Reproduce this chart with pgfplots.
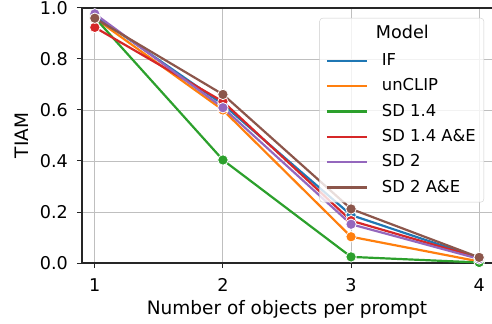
\documentclass[border=0pt]{standalone}
\usepackage{fontspec}
\setmainfont{DejaVu Sans}
\usepackage{pgfplots}
\pgfplotsset{compat=1.18}
\definecolor{cIF}{HTML}{1F77B4}
\definecolor{cUN}{HTML}{FF7F0E}
\definecolor{cSDa}{HTML}{2CA02C}
\definecolor{cSDb}{HTML}{D62728}
\definecolor{cSDc}{HTML}{9467BD}
\definecolor{cSDd}{HTML}{8C564B}
\definecolor{spine}{HTML}{262626}
\begin{document}
\fontsize{17.6bp}{21bp}\selectfont
\begin{tikzpicture}
\begin{axis}[
  width=410bp, height=255bp, scale only axis,
  xmin=0.9, xmax=4.1, ymin=0, ymax=1,
  xtick={1,2,3,4}, ytick={0,0.2,0.4,0.6,0.8,1.0},
  /pgf/number format/assume math mode=true,
  tick align=outside, major tick length=5bp,
  tick style={spine, line width=1bp},
  ticklabel style={font=\fontsize{17.6bp}{21bp}\selectfont, inner sep=0pt,
     text height=12.8bp, text depth=0pt},
  xticklabel style={anchor=north}, xticklabel shift=10bp,
  yticklabel style={anchor=east, /pgf/number format/.cd, fixed, fixed zerofill, precision=1},
  yticklabel shift=9bp,
  grid=major, grid style={color=black!25, line width=0.9bp},
  axis x line*=bottom, axis y line*=left,
  axis line style={-, spine, line width=1.1bp},
  xlabel={Number of objects per prompt}, ylabel={TIAM},
  label style={font=\fontsize{18.5bp}{22bp}\selectfont},
  xlabel style={at={(axis description cs:0.5,-0.2039)}, anchor=base},
  ylabel style={at={(axis description cs:-0.131,0.5)}, anchor=base},
  clip=false,
  every axis plot/.append style={line width=2.2bp, mark=*, mark size=5.2bp,
     mark options={draw=white, line width=0.8bp}},
  legend cell align=left,
  legend image code/.code={\draw[#1, mark=none] (0bp,0bp) -- (40bp,0bp);},
  legend style={at={(rel axis cs:0.9805,0.9608)}, anchor=north east,
     draw=black!20, fill=white, fill opacity=0.8, text opacity=1,
     rounded corners=3bp, inner xsep=6bp, inner ysep=7bp,
     font=\fontsize{16.4bp}{19bp}\selectfont,
     nodes={inner sep=0pt, text height=12.5bp, text depth=3bp},
     row sep=9.8bp, /tikz/column 1/.style={column sep=14bp}},
]
\addlegendimage{empty legend}
\addlegendentry[font=\fontsize{17.6bp}{21bp}\selectfont, text height=13bp, text depth=5.2bp]{\hspace*{-6bp}Model}
\addplot[color=cIF] coordinates {(1,0.970) (2,0.622) (3,0.188) (4,0.020)};
\addlegendentry{IF}
\addplot[color=cUN] coordinates {(1,0.960) (2,0.600) (3,0.103) (4,0.006)};
\addlegendentry{unCLIP}
\addplot[color=cSDa] coordinates {(1,0.962) (2,0.404) (3,0.024) (4,0.002)};
\addlegendentry{SD 1.4}
\addplot[color=cSDb] coordinates {(1,0.924) (2,0.633) (3,0.166) (4,0.020)};
\addlegendentry{SD 1.4 A\&E\hspace*{2bp}}
\addplot[color=cSDc] coordinates {(1,0.977) (2,0.609) (3,0.152) (4,0.016)};
\addlegendentry{SD 2}
\addplot[color=cSDd] coordinates {(1,0.960) (2,0.661) (3,0.212) (4,0.022)};
\addlegendentry{SD 2 A\&E}
\draw[spine, line width=1.1bp] (rel axis cs:0,1) -- (rel axis cs:1,1);
\end{axis}
\pgfresetboundingbox
\useasboundingbox (-82bp,-61bp) rectangle (410bp,263bp);
\end{tikzpicture}
\end{document}
